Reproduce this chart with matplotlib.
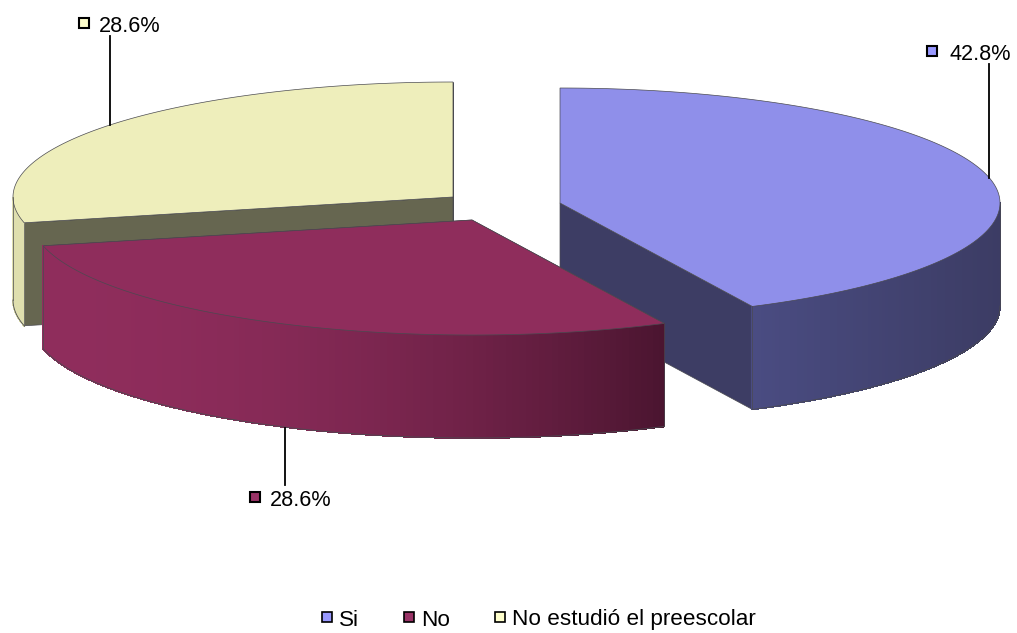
import numpy as np
import matplotlib
matplotlib.use('Agg')
import matplotlib.pyplot as plt
from matplotlib.colors import to_rgb

plt.rcParams['font.family'] = ['Liberation Sans', 'DejaVu Sans']

categories = ['Si', 'No', 'No estudió el preescolar']
shares = [42.8, 28.6, 28.6]

colors_top = ['#8f8fea', '#8f2d5c', '#eeeebb']
colors_cut = ['#3d3d64', '#4e1630', '#666650']
side_light = ['#4a4c82', '#8f2d5c', '#dfdfae']
side_dark = ['#3c3c64', '#4b1530', '#dfdfae']
marker_colors = ['#9999ff', '#993366', '#ffffcc']

# apex of every exploded slice, in pixels
centers = [(560, 203), (472, 220), (453, 197)]
rx, ry, depth = 440, 115, 103

# label marker, label text x and leader line for each slice
label_xy = [(932, 51), (255, 497), (84, 23)]
label_text_x = [950, 270, 99]
leaders = [((989, 64), (989, 178)), ((285, 428), (285, 485)), ((110, 36), (110, 125))]
legend_marker_x = [327, 409, 500]
legend_text_x = [339, 421, 512]


def arc(center, t0, t1, n=200):
    t = np.radians(np.linspace(t0, t1, n))
    return center[0] + rx * np.cos(t), center[1] + ry * np.sin(t)


def draw_slice(ax, i, t0, t1):
    c = centers[i]
    edge = '#4a4a50'
    xa, ya = arc(c, t0, t1)

    # cut faces
    for x, y in [(xa[0], ya[0]), (xa[-1], ya[-1])]:
        ax.fill([c[0], x, x, c[0]], [c[1], y, y + depth, c[1] + depth],
                color=colors_cut[i], ec=edge, lw=0.5)

    # outer wall, only the part facing the viewer, shaded left to right
    if t0 >= 360:
        t0, t1 = t0 - 360, t1 - 360
    if t1 > 360:
        lo, hi = 360, min(t1, 540)
    else:
        lo, hi = max(t0, 0), min(t1, 180)
    if hi > lo:
        xs, ys = arc(c, lo, hi, 120)
        light, dark = np.array(to_rgb(side_light[i])), np.array(to_rgb(side_dark[i]))
        for k in range(len(xs) - 1):
            f = (xs[k] - xs.min()) / (xs.max() - xs.min())
            f = f ** 2 if i == 1 else f
            col = light * (1 - f) + dark * f
            ax.fill([xs[k], xs[k + 1], xs[k + 1], xs[k]],
                    [ys[k], ys[k + 1], ys[k + 1] + depth, ys[k] + depth],
                    color=col, lw=0.6, antialiased=False)
        ax.plot(xs, ys + depth, color=edge, lw=0.6)
        ax.plot([xs[0], xs[0]], [ys[0], ys[0] + depth], color=edge, lw=0.5)
        ax.plot([xs[-1], xs[-1]], [ys[-1], ys[-1] + depth], color=edge, lw=0.5)

    # top face
    ax.fill(np.r_[c[0], xa], np.r_[c[1], ya], color=colors_top[i], ec=edge, lw=0.5)


fig = plt.figure(figsize=(10.17, 6.33), dpi=100)
ax = fig.add_axes([0, 0, 1, 1])
ax.set_xlim(0, 1017)
ax.set_ylim(633, 0)
ax.axis('off')

spans = np.array(shares) / sum(shares) * 360
starts = 270 + np.r_[0, np.cumsum(spans)[:-1]]
ranges = [(starts[i], starts[i] + spans[i]) for i in range(3)]

# back to front
for i in [2, 0, 1]:
    t0, t1 = ranges[i]
    draw_slice(ax, i, t0, t1)

for i in range(3):
    (x0, y0), (x1, y1) = leaders[i]
    ax.plot([x0, x1], [y0, y1], color='black', lw=1.3)
    lx, ly = label_xy[i]
    ax.plot(lx, ly, 's', ms=7, mfc=marker_colors[i], mec='black', mew=1.5)
    ax.text(label_text_x[i], ly + 3, f'{shares[i]:.1f}%', fontsize=15.6, va='center', ha='left')

for i in range(3):
    ax.plot(legend_marker_x[i], 617, 's', ms=7, mfc=marker_colors[i], mec='black', mew=1.2)
    ax.text(legend_text_x[i], 620, categories[i], fontsize=16.2, va='center', ha='left')

fig.savefig('out.png', dpi=100)
